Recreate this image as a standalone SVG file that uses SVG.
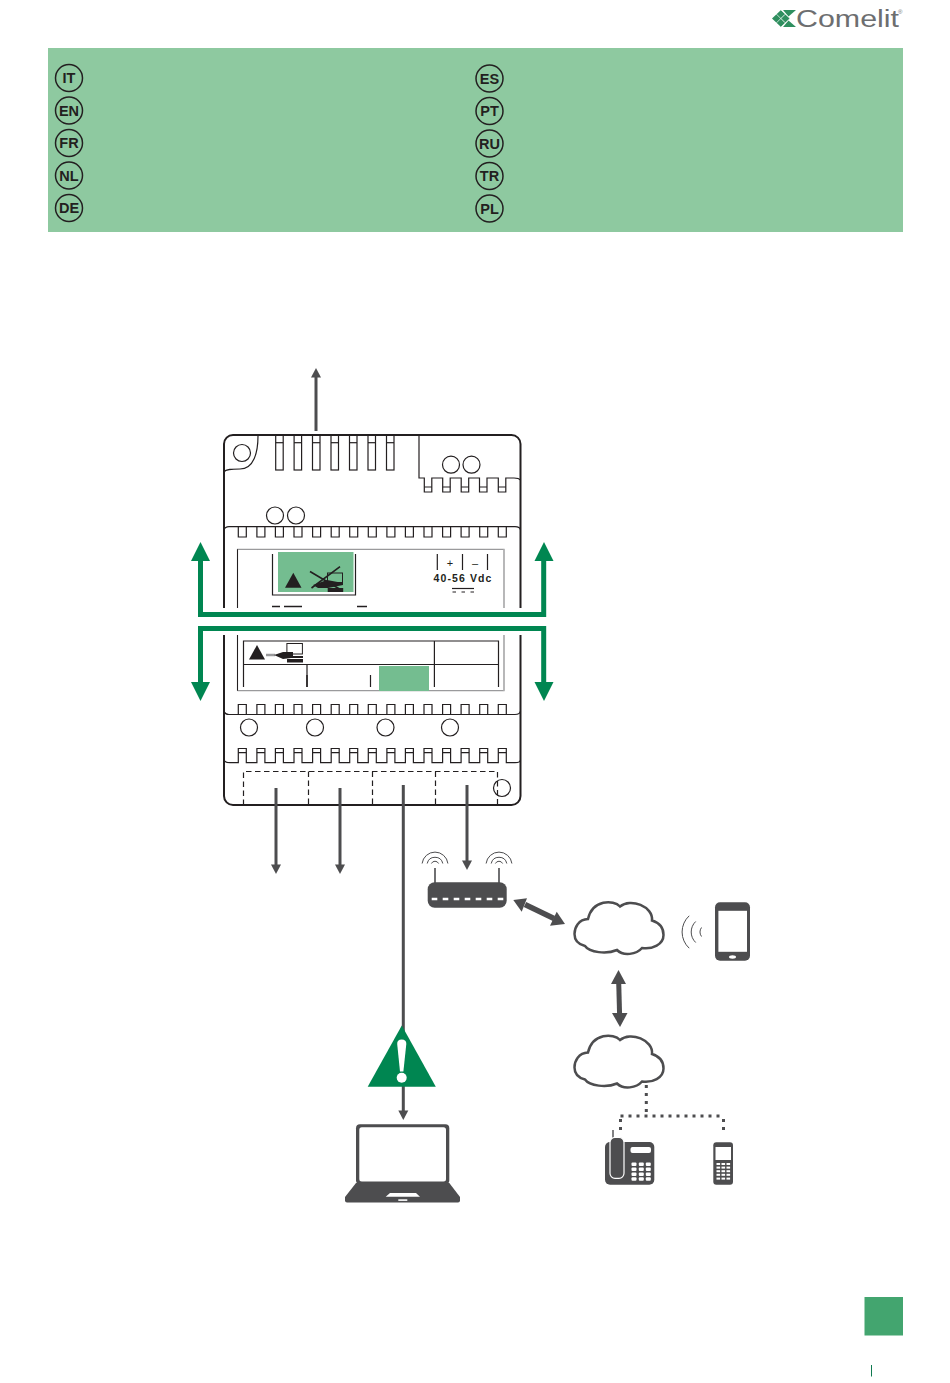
<svg xmlns="http://www.w3.org/2000/svg" width="950" height="1383" viewBox="0 0 950 1383">
<style>
.ln{fill:none;stroke:#231f20;stroke-width:1.2}
.ol{fill:none;stroke:#231f20;stroke-width:2}
.wire{fill:none;stroke:#4d4d4f;stroke-width:3}
.gr{fill:none;stroke:#008651;stroke-width:5}
.grh{fill:#008651}
.dk{fill:#4d4d4f}
.wh{fill:#fff}
.badge{fill:none;stroke:#231f20;stroke-width:1.5}
.bt{font-family:"Liberation Sans",Arial,sans-serif;font-weight:700;font-size:14.5px;fill:#231f20;text-anchor:middle}
.cloud{fill:#fff;stroke:#4d4d4f;stroke-width:2.5}
.wf{fill:none;stroke:#4d4d4f;stroke-width:1}
.dot{fill:none;stroke:#4d4d4f;stroke-width:3;stroke-dasharray:3 5}
</style>
<defs>
<path id="teeth" d="M238.3 0v10h8v-10M256.9 0v10h8v-10M275.4 0v10h8v-10M294 0v10h8v-10M312.6 0v10h8v-10M331.2 0v10h8v-10M349.7 0v10h8v-10M368.3 0v10h8v-10M386.9 0v10h8v-10M405.4 0v10h8v-10M424 0v10h8v-10M442.6 0v10h8v-10M461.1 0v10h8v-10M479.7 0v10h8v-10M498.3 0v10h8v-10"/>
<path id="cloudShape" d="M46.5 6C40 -1 19 -1 14.5 18.5C5 19 1 27 1 33.5C1 40 5.5 44 11.5 45.5C16 52 33 54 43.5 49.5C50 56 63 54 68.5 47.5C79 49 90 44 90 34.5C90 27 85 22 78.5 20C80 6 57 -3 46.5 6Z"/>
<g id="wifi"><path class="wf" d="M-3.6 -1.5A4 4 0 0 1 3.6 -1.5M-7.8 -1.5A8 8 0 0 1 7.8 -1.5M-12.9 -1.5A13 13 0 0 1 12.9 -1.5"/></g>
<g id="slot"><rect class="ln" x="0" y="435" width="7.5" height="35"/><path class="ln" d="M0 442.7h7.5"/></g>
</defs>
<rect width="950" height="1383" fill="#fff"/>

<g id="logo">
<g fill="#2f8f5f">
<polygon points="772,18.5 781,10 785.5,14.3 781,18.5 785.5,22.7 781,27"/>
<polygon points="781,18.5 785.5,14.3 790,18.5 785.5,22.7"/>
<polygon points="783,10 796,10 788.5,16.5"/>
<polygon points="783,27 796,27 788.5,20.5"/>
</g>
<path d="M776.5 14.2L785 22.7M776.5 22.8L785 14.3M781 10L790 18.5M781 27L790 18.5" stroke="#fff" stroke-width=".7" fill="none"/>
<text x="796" y="27" font-family="'Liberation Sans',Arial,sans-serif" font-size="23" fill="#6d6e70" textLength="103" lengthAdjust="spacingAndGlyphs">Comelit</text>
<text x="898" y="14" font-family="'Liberation Sans',Arial,sans-serif" font-size="6" fill="#6d6e70">®</text>
</g>

<g id="legend">
<rect x="48" y="48" width="855" height="184" fill="#8ec9a0"/>
<g id="badge-it"><circle class="badge" cx="69" cy="78" r="13.5"/><text class="bt" x="69" y="83.2">IT</text></g>
<g id="badge-en"><circle class="badge" cx="69" cy="110.5" r="13.5"/><text class="bt" x="69" y="115.7">EN</text></g>
<g id="badge-fr"><circle class="badge" cx="69" cy="143" r="13.5"/><text class="bt" x="69" y="148.2">FR</text></g>
<g id="badge-nl"><circle class="badge" cx="69" cy="175.5" r="13.5"/><text class="bt" x="69" y="180.7">NL</text></g>
<g id="badge-de"><circle class="badge" cx="69" cy="208" r="13.5"/><text class="bt" x="69" y="213.2">DE</text></g>
<g id="badge-es"><circle class="badge" cx="489.5" cy="78.5" r="13.5"/><text class="bt" x="489.5" y="83.7">ES</text></g>
<g id="badge-pt"><circle class="badge" cx="489.5" cy="111" r="13.5"/><text class="bt" x="489.5" y="116.2">PT</text></g>
<g id="badge-ru"><circle class="badge" cx="489.5" cy="143.5" r="13.5"/><text class="bt" x="489.5" y="148.7">RU</text></g>
<g id="badge-tr"><circle class="badge" cx="489.5" cy="176" r="13.5"/><text class="bt" x="489.5" y="181.2">TR</text></g>
<g id="badge-pl"><circle class="badge" cx="489.5" cy="208.5" r="13.5"/><text class="bt" x="489.5" y="213.7">PL</text></g>
</g>

<g id="device">
<rect class="ol" x="224" y="435" width="296.5" height="370" rx="9" fill="#fff"/>
<circle class="ln" cx="242" cy="453" r="8.5"/>
<path class="ln" d="M258 436C258 452 254 469 240 469C232 469 226 469 224 472"/>
<use href="#slot" x="275.7"/><use href="#slot" x="294.1"/><use href="#slot" x="312.5"/><use href="#slot" x="331"/><use href="#slot" x="349.5"/><use href="#slot" x="368"/><use href="#slot" x="386.5"/>
<path class="ln" d="M419 436V478H424.3V492H431.8V478H442.7V492H450.2V478H461.2V492H468.7V478H479.5V492H487V478H498.3V492H505.8V478H514Q519 478 520 480"/>
<path class="ln" d="M424.3 487h7.5M442.7 487h7.5M461.2 487h7.5M479.5 487h7.5M498.3 487h7.5"/>
<circle class="ln" cx="451" cy="464.7" r="8.5"/><circle class="ln" cx="471.5" cy="464.7" r="8.5"/>
<circle class="ln" cx="275" cy="515.5" r="8.5"/><circle class="ln" cx="296" cy="515.5" r="8.5"/>
<path class="ln" d="M224 530Q225 526.7 229 526.7H515Q520 526.7 520.5 530"/>
<use href="#teeth" class="ln" transform="translate(0,527)"/>
<path d="M237.5 690.7V549.3H504V690.7H237.5" fill="none" stroke="#9a9a9c" stroke-width="1.2"/>
<path d="M237.5 549.3V690.7" fill="none" stroke="#231f20" stroke-width="1"/>
<path d="M504 549.3V690.7" fill="none" stroke="#b5b5b6" stroke-width="1.6"/>
<rect x="278" y="552" width="75.5" height="40" fill="#74bd90"/>
<path class="ln" d="M272.5 554V595H355.5V554"/>
<polygon points="285,587.7 293.3,572.7 301.5,587.7" fill="#231f20"/>
<rect x="327.5" y="573" width="15" height="9.5" fill="none" stroke="#231f20" stroke-width="1"/>
<path d="M310 571.5L342 590.5M311.5 588L340 566.7" stroke="#231f20" stroke-width="1.6" fill="none"/>
<path d="M313 585L327 580L343 583V585L328 588L318 588Z" fill="#231f20"/>
<rect x="327.7" y="588" width="15.5" height="4" fill="#231f20"/>
<path d="M437.3 554V570M462.5 554V570M487.5 554V570" class="ln"/>
<text x="450" y="566.5" font-family="'Liberation Sans',Arial,sans-serif" font-size="11" text-anchor="middle" fill="#231f20">+</text>
<text x="475" y="566.5" font-family="'Liberation Sans',Arial,sans-serif" font-size="11" text-anchor="middle" fill="#231f20">–</text>
<text x="463" y="582" font-family="'Liberation Sans',Arial,sans-serif" font-weight="700" font-size="10.5" letter-spacing="1.1" text-anchor="middle" fill="#231f20">40-56 Vdc</text>
<path d="M452 588.5H474" class="ln" stroke-width="1"/>
<path d="M452.5 592H474" stroke="#231f20" stroke-width="1" stroke-dasharray="3.5 5.5" fill="none"/>
<path d="M272 606.5H280M284 606.5H302M357 606.5H367" stroke="#231f20" stroke-width="1.5" fill="none"/>
<path class="ln" d="M243.5 687V641H498.5V687M243.5 664.5H498.5M434.4 641V687M307 664.5V675M370.5 675V687"/>
<path d="M307 675V687" stroke="#231f20" stroke-width="1.8" fill="none"/>
<rect x="379" y="666" width="50" height="25" fill="#74bd90"/>
<polygon points="249,659.5 257,645 265,659.5" fill="#231f20"/>
<rect x="286.9" y="643.5" width="15.5" height="10.5" fill="none" stroke="#231f20" stroke-width="1"/>
<path d="M266 655H275" stroke="#9a9a9c" stroke-width="2.5" fill="none"/>
<path d="M274 655L283 652H293V656H303V658H291L283 659Z" fill="#231f20"/>
<rect x="287" y="659" width="16" height="3.5" fill="#231f20"/>
<use href="#teeth" class="ln" transform="translate(0,714.5) scale(1,-1)"/>
<path class="ln" d="M224 711Q225 714.5 229 714.5H515Q520 714.5 520.5 711"/>
<circle class="ln" cx="249" cy="727.5" r="8.5"/><circle class="ln" cx="315" cy="727.5" r="8.5"/><circle class="ln" cx="385.5" cy="727.5" r="8.5"/><circle class="ln" cx="450" cy="727.5" r="8.5"/>
<path class="ln" d="M224 760Q225 762.7 230 762.7H238.3V748.5H246.3V762.7H256.9V748.5H264.9V762.7H275.4V748.5H283.4V762.7H294V748.5H302V762.7H312.6V748.5H320.6V762.7H331.2V748.5H339.2V762.7H349.7V748.5H357.7V762.7H368.3V748.5H376.3V762.7H386.9V748.5H394.9V762.7H405.4V748.5H413.4V762.7H424V748.5H432V762.7H442.6V748.5H450.6V762.7H461.1V748.5H469.1V762.7H479.7V748.5H487.7V762.7H498.3V748.5H506.3V762.7H515Q520 762.7 520.5 760"/>
<path class="ln" d="M238.3 752.7h8M256.9 752.7h8M275.4 752.7h8M294 752.7h8M312.6 752.7h8M331.2 752.7h8M349.7 752.7h8M368.3 752.7h8M386.9 752.7h8M405.4 752.7h8M424 752.7h8M442.6 752.7h8M461.1 752.7h8M479.7 752.7h8M498.3 752.7h8"/>
<path class="ln" stroke-dasharray="5.5 3.5" d="M243.5 805V771.5H497.5V805M308.5 771.5V805M372.5 771.5V805M435.5 771.5V805"/>
<circle class="ln" cx="502" cy="788" r="8.5"/>
<rect x="190" y="608" width="370" height="27" fill="#fff"/>
</g>

<g id="connectors">
<path class="wire" d="M316 431V376"/><polygon class="dk" points="316,368 311,377.5 321,377.5"/>
<path class="wire" d="M276 788V866"/><polygon class="dk" points="276,874 271,864.5 281,864.5"/>
<path class="wire" d="M340 788V866"/><polygon class="dk" points="340,874 335,864.5 345,864.5"/>
<path class="wire" d="M403.3 785V1112"/><polygon class="dk" points="403.3,1120 398.3,1110.5 408.3,1110.5"/>
<path class="wire" d="M467 785V862"/><polygon class="dk" points="467,870 462,860.5 472,860.5"/>
<path class="gr" d="M200.5 560V614.5H543.7V560"/>
<polygon class="grh" points="200.5,542 191,561 210,561"/><polygon class="grh" points="544,542 534.5,561 553.5,561"/>
<path class="gr" d="M200.5 682V628.5H543.7V682"/>
<polygon class="grh" points="200.5,701 191,682 210,682"/><polygon class="grh" points="544,701 534.5,682 553.5,682"/>
<path d="M525 904.5L554 918.5" stroke="#4d4d4f" stroke-width="5.5" fill="none"/>
<polygon class="dk" points="513.3,900 527,898.3 521.7,911.7"/>
<polygon class="dk" points="565,924 550,925.7 556.7,911.7"/>
<path d="M618.7 982L619.6 1015" stroke="#4d4d4f" stroke-width="5" fill="none"/>
<polygon class="dk" points="618.5,970 611,984 626,984"/>
<polygon class="dk" points="620,1027 612,1013 627.5,1013"/>
<path class="dot" d="M646.3 1085V1114"/>
<path class="dot" d="M620.5 1116H724"/>
<path class="dot" d="M620.5 1119V1131M723.5 1119V1131"/>
</g>

<g id="router">
<rect class="dk" x="427.7" y="882.3" width="79" height="25.4" rx="7"/>
<path d="M431.7 899h5.6M442.7 899h5.6M453.7 899h5.6M464.7 899h5.6M475.7 899h5.6M486.7 899h5.6M497.7 899h5.6" stroke="#fff" stroke-width="2.6" fill="none"/>
<path d="M435 868V883M499 868V883" stroke="#4d4d4f" stroke-width="1.6" fill="none"/>
<use href="#wifi" x="435" y="865"/><use href="#wifi" x="499" y="865"/>
</g>

<g id="cloud-1"><use href="#cloudShape" class="cloud" x="573.5" y="900.5"/></g>
<g id="cloud-2"><use href="#cloudShape" class="cloud" x="573.5" y="1034"/></g>

<g id="smartphone">
<rect class="dk" x="715" y="902.3" width="35" height="58.4" rx="5"/>
<rect class="wh" x="718.4" y="910.8" width="28.6" height="41"/>
<ellipse class="wh" cx="732.5" cy="957" rx="3.5" ry="1.7"/>
<path class="wf" d="M701.5 927.5A8 8 0 0 0 701.5 936.5M695.7 921.5A14.5 14.5 0 0 0 695.7 942.5M689.2 915.8A22 22 0 0 0 689.2 948.2" stroke-width="1.1"/>
</g>

<g id="warning">
<polygon points="401.8,1025.5 367.7,1086.7 435.8,1086.7" fill="#008651"/>
<path class="wh" d="M397.2 1044Q397 1039.5 401.7 1039.5Q406.5 1039.5 406.3 1044L403.4 1071.5H400Z"/>
<circle class="wh" cx="401.7" cy="1077.7" r="5"/>
</g>

<g id="laptop">
<rect class="dk" x="356" y="1124.3" width="93.3" height="60" rx="4"/>
<rect class="wh" x="359.3" y="1127.3" width="86.7" height="54.2" rx="2.5"/>
<path class="dk" d="M356 1183H449.3L460 1197V1200.5Q460 1202.5 458 1202.5H347Q345 1202.5 345 1200.5V1197Z"/>
<polygon class="wh" points="390,1193 416,1193 420,1196.8 385.7,1196.8"/>
<rect class="wh" x="398.3" y="1199.3" width="9" height="1.6"/>
</g>

<g id="desk-phone">
<rect class="dk" x="605" y="1142" width="49.3" height="42.7" rx="5"/>
<path d="M613 1130V1140" stroke="#4d4d4f" stroke-width="1.4" fill="none"/>
<rect class="dk" x="610" y="1137.3" width="14" height="41" rx="5" stroke="#fff" stroke-width="1.2"/>
<rect class="wh" x="630.5" y="1147" width="20.5" height="6" rx="2"/>
<g fill="#fff">
<rect x="631.5" y="1162.5" width="5" height="3.5" rx="1"/><rect x="638.8" y="1162.5" width="5" height="3.5" rx="1"/><rect x="645.8" y="1162.5" width="5" height="3.5" rx="1"/>
<rect x="631.5" y="1167.5" width="5" height="3.5" rx="1"/><rect x="638.8" y="1167.5" width="5" height="3.5" rx="1"/><rect x="645.8" y="1167.5" width="5" height="3.5" rx="1"/>
<rect x="631.5" y="1172.5" width="5" height="3.5" rx="1"/><rect x="638.8" y="1172.5" width="5" height="3.5" rx="1"/><rect x="645.8" y="1172.5" width="5" height="3.5" rx="1"/>
<rect x="631.5" y="1177.3" width="5" height="3.5" rx="1"/><rect x="638.8" y="1177.3" width="5" height="3.5" rx="1"/><rect x="645.8" y="1177.3" width="5" height="3.5" rx="1"/>
</g>
</g>

<g id="mobile-handset">
<rect class="dk" x="713.3" y="1142.3" width="19.7" height="42.4" rx="3"/>
<rect class="wh" x="715.5" y="1147" width="15.5" height="13"/>
<g fill="#fff">
<rect x="716.5" y="1163" width="3.6" height="2"/><rect x="721.5" y="1163" width="3.6" height="2"/><rect x="726.5" y="1163" width="3.6" height="2"/>
<rect x="716.5" y="1166.6" width="3.6" height="2"/><rect x="721.5" y="1166.6" width="3.6" height="2"/><rect x="726.5" y="1166.6" width="3.6" height="2"/>
<rect x="716.5" y="1170.2" width="3.6" height="2"/><rect x="721.5" y="1170.2" width="3.6" height="2"/><rect x="726.5" y="1170.2" width="3.6" height="2"/>
<rect x="716.5" y="1173.8" width="3.6" height="2"/><rect x="721.5" y="1173.8" width="3.6" height="2"/><rect x="726.5" y="1173.8" width="3.6" height="2"/>
<rect x="716.5" y="1177.6" width="3.6" height="2"/><rect x="721.5" y="1177.6" width="3.6" height="2"/><rect x="726.5" y="1177.6" width="3.6" height="2"/>
</g>
</g>

<g id="page-tab">
<rect x="864.5" y="1297" width="38.5" height="38.5" fill="#43a56f"/>
<path d="M871.5 1365V1376.5" stroke="#0f7a50" stroke-width="1" fill="none"/>
</g>
</svg>
